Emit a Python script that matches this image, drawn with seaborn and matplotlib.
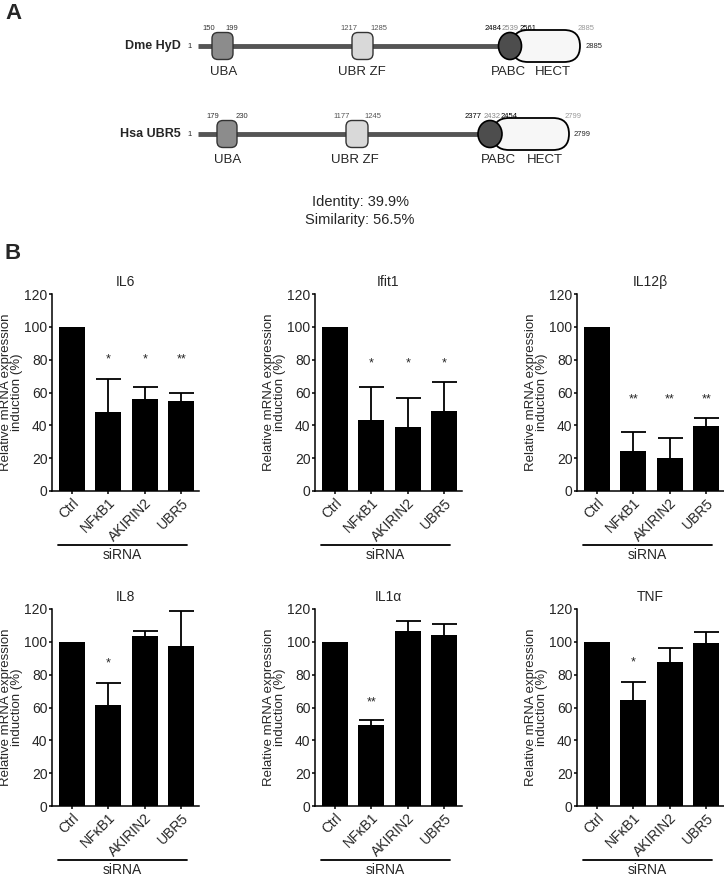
"""Figura: esquema de domínios (A) e expressão relativa de mRNA (B)"""

import matplotlib.pyplot as plt
import matplotlib.transforms as mtransforms
from matplotlib.patches import FancyBboxPatch, Ellipse
import seaborn as sns

# ---- dados do painel B ----
categorias = ["Ctrl", "NFκB1", "AKIRIN2", "UBR5"]
genes = ["IL6", "Ifit1", "IL12β", "IL8", "IL1α", "TNF"]

il6 = [100, 48, 55.8, 54.6]
il6_err = [0, 20.2, 7.8, 4.9]
il6_sig = ["", "*", "*", "**"]
il6_sig_y = 80

ifit1 = [100, 43.5, 38.8, 48.5]
ifit1_err = [0, 19.7, 18.1, 18.0]
ifit1_sig = ["", "*", "*", "*"]
ifit1_sig_y = 77.5

il12b = [100, 24.5, 20.4, 39.7]
il12b_err = [0, 11.3, 11.7, 4.7]
il12b_sig = ["", "**", "**", "**"]
il12b_sig_y = 55.5

il8 = [100, 61.6, 103.3, 97.2]
il8_err = [0, 13.4, 3.2, 21.3]
il8_sig = ["", "*", "", ""]
il8_sig_y = 87

il1a = [100, 49.4, 106.3, 104.1]
il1a_err = [0, 2.8, 6.2, 6.7]
il1a_sig = ["", "**", "", ""]
il1a_sig_y = 62.8

tnf = [100, 64.6, 87.8, 99.0]
tnf_err = [0, 11.0, 8.3, 6.7]
tnf_sig = ["", "*", "", ""]
tnf_sig_y = 87.4

valores = [il6, ifit1, il12b, il8, il1a, tnf]
erros = [il6_err, ifit1_err, il12b_err, il8_err, il1a_err, tnf_err]
sigs = [il6_sig, ifit1_sig, il12b_sig, il8_sig, il1a_sig, tnf_sig]
sig_y = [il6_sig_y, ifit1_sig_y, il12b_sig_y, il8_sig_y, il1a_sig_y, tnf_sig_y]
yticks = [0, 20, 40, 60, 80, 100, 120]

# ---- dados do painel A (esquema, posições em pixels) ----
proteinas = ["Dme HyD", "Hsa UBR5"]
comprimento = ["2885", "2799"]
uba_lim = [("150", "199"), ("179", "230")]
ubr_lim = [("1217", "1285"), ("1177", "1245")]
hect_lim = [("2484", "2539", "2561"), ("2377", "2432", "2454")]
identidade = "Identity: 39.9%"
similaridade = "Similarity: 56.5%"

sns.set_style("ticks")
plt.rcParams["font.family"] = ["Liberation Sans", "DejaVu Sans"]

fig = plt.figure(figsize=(7.24, 8.76), dpi=100)
W, H = 724, 876

# ---------------- Painel A ----------------
axa = fig.add_axes([0, 1 - 240 / H, 1, 240 / H])
axa.set_xlim(0, W)
axa.set_ylim(240, 0)
axa.axis("off")

linhas = [
    dict(y=46, uba=(212, 233), ubr=(352, 373), pabc=(510, 23), hect=(512, 580),
         num_y=29, lab_y=72, lim_x=(493, 510, 528), len_top=586, len_x=594,
         uba_num=(209, 232), ubr_num=(349, 379), uba_lab=224, ubr_lab=362,
         pabc_lab=508, hect_lab=553),
    dict(y=134, uba=(217, 237), ubr=(346, 368), pabc=(490, 24), hect=(493, 569),
         num_y=116, lab_y=160, lim_x=(473, 492, 509), len_top=573, len_x=582,
         uba_num=(213, 242), ubr_num=(342, 373), uba_lab=228, ubr_lab=355,
         pabc_lab=498, hect_lab=545),
]

for i, d in enumerate(linhas):
    y = d["y"]
    axa.text(181, y, proteinas[i], ha="right", va="center", fontsize=9,
             fontweight="bold", family=["Liberation Sans Narrow", "Liberation Sans"])
    axa.text(190, y, "1", ha="center", va="center", fontsize=5.5)
    axa.plot([198, d["pabc"][0]], [y, y], color="#555555", lw=3.5,
             solid_capstyle="butt", zorder=1)
    # HECT
    x0, x1 = d["hect"]
    axa.add_patch(FancyBboxPatch((x0, y - 16), x1 - x0, 32,
                                 boxstyle="round,pad=0,rounding_size=16",
                                 fc="#f7f7f7", ec="black", lw=1.3, zorder=2))
    # PABC
    cx, w = d["pabc"]
    axa.add_patch(Ellipse((cx, y), w, 27, fc="#4d4d4d", ec="black", lw=1.2, zorder=3))
    # UBA e UBR ZF
    for (bx0, bx1), cor in [(d["uba"], "#8c8c8c"), (d["ubr"], "#d9d9d9")]:
        axa.add_patch(FancyBboxPatch((bx0, y - 13.5), bx1 - bx0, 27,
                                     boxstyle="round,pad=0,rounding_size=6",
                                     fc=cor, ec="#333333", lw=1.0, zorder=3))
    # números
    ny = d["num_y"]
    for xx, t in zip(d["uba_num"], uba_lim[i]):
        axa.text(xx, ny, t, ha="center", va="center", fontsize=5.5, color="#333333")
    for xx, t in zip(d["ubr_num"], ubr_lim[i]):
        axa.text(xx, ny, t, ha="center", va="center", fontsize=5.5, color="#555555")
    for xx, t, c in zip(d["lim_x"], hect_lim[i], ["black", "#888888", "black"]):
        axa.text(xx, ny, t, ha="center", va="center", fontsize=5.5, color=c)
    axa.text(d["len_top"], ny, comprimento[i], ha="center", va="center",
             fontsize=5.5, color="#999999")
    axa.text(d["len_x"], y, comprimento[i], ha="center", va="center", fontsize=5.5)
    # rótulos
    ly = d["lab_y"]
    axa.text(d["uba_lab"], ly, "UBA", ha="center", va="center", fontsize=9.5)
    axa.text(d["ubr_lab"], ly, "UBR ZF", ha="center", va="center", fontsize=9.5)
    axa.text(d["pabc_lab"], ly, "PABC", ha="center", va="center", fontsize=9.5)
    axa.text(d["hect_lab"], ly, "HECT", ha="center", va="center", fontsize=9.5)

axa.text(360, 202, identidade, ha="center", va="center", fontsize=10.5)
axa.text(360, 220, similaridade, ha="center", va="center", fontsize=10.5)

fig.text(5 / W, 1 - 3 / H, "A", ha="left", va="top", fontsize=16, fontweight="bold",
         family=["Liberation Sans Narrow", "Liberation Sans"])
fig.text(5 / W, 1 - 243 / H, "B", ha="left", va="top", fontsize=16, fontweight="bold",
         family=["Liberation Sans Narrow", "Liberation Sans"])

# ---------------- Painel B ----------------
lefts = [52, 315, 577]
bottoms = [491, 806]
aw, ah = 147, 197

for k in range(6):
    r, c = divmod(k, 3)
    ax = fig.add_axes([lefts[c] / W, 1 - bottoms[r] / H, aw / W, ah / H])
    sns.barplot(x=categorias, y=valores[k], color="black", saturation=1,
                width=0.72, edgecolor="black", linewidth=0, ax=ax)
    pos = [i for i in range(4) if erros[k][i] > 0]
    eb = ax.errorbar(pos, [valores[k][i] for i in pos],
                     yerr=[[0] * len(pos), [erros[k][i] for i in pos]],
                     fmt="none", ecolor="black", elinewidth=1.3, capsize=9,
                     capthick=1.3)
    # só o "cap" de cima
    eb[1][0].set_visible(False)
    for i, s in enumerate(sigs[k]):
        if s:
            ax.text(i, sig_y[k], s, ha="center", va="center", fontsize=9)

    ax.set_xlim(-0.545, 3.49)
    ax.set_ylim(0, 120)
    ax.set_yticks(yticks)
    ax.tick_params(axis="both", direction="out", length=2.5, width=1.1, labelsize=10,
                   color="black", pad=0.8)
    ax.set_xticks(range(4))
    ax.set_xticklabels(categorias, rotation=45, ha="right", rotation_mode="anchor",
                       fontsize=10)
    for sp in ["left", "bottom"]:
        ax.spines[sp].set_linewidth(1.1)
        ax.spines[sp].set_color("black")
    sns.despine(ax=ax)
    ax.set_xlabel("")
    ax.set_ylabel("Relative mRNA expression\ninduction (%)", fontsize=9.5,
                  linespacing=0.95, labelpad=0.5)
    ax.set_title(genes[k], fontsize=10, pad=6)

    trans = mtransforms.blended_transform_factory(ax.transData, ax.transAxes)
    ax.plot([-0.38, 3.16], [-0.272, -0.272], color="black", lw=1.3,
            transform=trans, clip_on=False)
    ax.text(1.39, -0.325, "siRNA", ha="center", va="center", fontsize=10,
            transform=trans)

fig.savefig("out.png", dpi=100)
